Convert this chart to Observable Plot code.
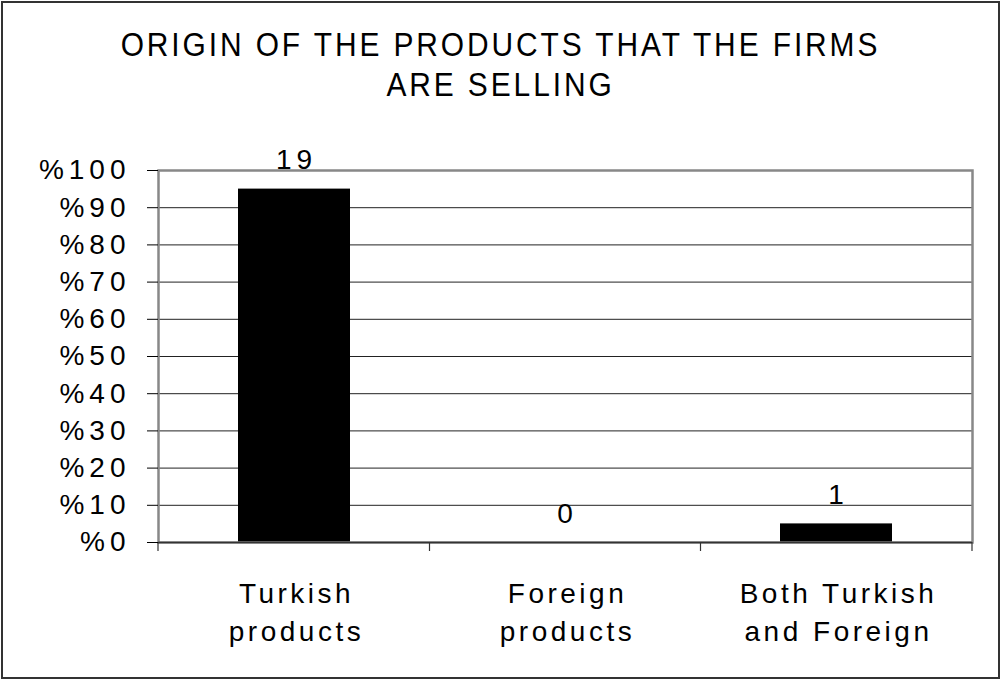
<!DOCTYPE html>
<html><head><meta charset="utf-8">
<script src="https://cdn.jsdelivr.net/npm/d3@7"></script>
<script src="https://cdn.jsdelivr.net/npm/@observablehq/plot@0.6"></script>
<style>
body{margin:0;background:#fff;font-family:"Liberation Sans",Arial,sans-serif;}
#wrap{position:relative;width:1001px;height:680px;overflow:hidden;background:#fff;}
#border{position:absolute;left:1px;top:1px;width:995px;height:674px;border:2px solid #333;}
#title{position:absolute;left:0;top:23.5px;width:1001px;text-align:center;font-size:34px;letter-spacing:3.3px;line-height:40px;color:#000;transform:scaleX(0.88);transform-origin:50% 50%;}
#chart{position:absolute;left:0;top:130px;}
</style></head><body>
<div id="wrap"><div id="border"></div>
<div id="title">ORIGIN OF THE PRODUCTS THAT THE FIRMS<br>ARE SELLING</div>
<div id="chart"></div></div>
<script>
const categories = ["Turkish products", "Foreign products", "Both Turkish and Foreign"];
const categoryLines = ["Turkish\nproducts", "Foreign\nproducts", "Both Turkish\nand Foreign"];
const counts = [19, 0, 1];
const percents = [95, 0, 5];
const yTicks = [0, 10, 20, 30, 40, 50, 60, 70, 80, 90, 100];
const yTickLabels = ["%0", "%10", "%20", "%30", "%40", "%50", "%60", "%70", "%80", "%90", "%100"];

const data = categories.map((c, i) => ({cat: c, label: categoryLines[i], count: counts[i], pct: percents[i]}));

function boundaryTicks(index, scales, values, dims) {
  const x = scales.x, y = scales.y;
  const bw = typeof x.bandwidth === "function" ? x.bandwidth() : (x.bandwidth || 0);
  const centers = categories.map(c => x(c) + bw / 2);
  const bounds = [dims.marginLeft];
  for (let i = 1; i < centers.length; i++) bounds.push((centers[i - 1] + centers[i]) / 2);
  bounds.push(dims.width - dims.marginRight);
  const y0 = y(0);
  const g = d3.create("svg:g");
  g.selectAll("line").data(bounds).join("line")
    .attr("x1", d => d).attr("x2", d => d)
    .attr("y1", y0).attr("y2", y0 + 9)
    .attr("stroke", "#333").attr("stroke-width", 1.2);
  return g.node();
}

const chart = Plot.plot({
  width: 1001,
  height: 550,
  marginTop: 40,
  marginBottom: 138,
  marginLeft: 158,
  marginRight: 29,
  style: {fontFamily: "'Liberation Sans', Arial, sans-serif", color: "#000", background: "transparent"},
  x: {domain: categories, paddingInner: 0.587, paddingOuter: 0.2935, axis: null},
  y: {domain: [0, 100], axis: null},
  marks: [
    Plot.gridY(yTicks, {stroke: "#222", strokeOpacity: 1, strokeWidth: 1}),
    Plot.barY(data, {x: "cat", y: "pct", fill: "#000"}),
    Plot.frame({stroke: "#888", strokeWidth: 2.5}),
    Plot.ruleY([0], {stroke: "#333", strokeWidth: 1.5}),
    boundaryTicks,
    Plot.axisY(yTicks, {tickSize: 11, tickPadding: 17, stroke: "#000", fontSize: 28, tickFormat: d => yTickLabels[yTicks.indexOf(d)], label: null}),
    Plot.text(data, {x: "cat", y: "pct", text: d => String(d.count), lineAnchor: "bottom", dy: -20, dx: 2, fontSize: 28, fill: "#000"}),
    Plot.text(data, {x: "cat", frameAnchor: "bottom", text: "label", lineAnchor: "top", dy: 33, dx: 2, lineHeight: 1.36, fontSize: 28, fill: "#000", className: "catlab"})
  ]
});
chart.style.letterSpacing = "5px";
chart.querySelectorAll(".catlab").forEach(el => el.style.letterSpacing = "3.5px");
document.getElementById("chart").appendChild(chart);
</script>
</body></html>
